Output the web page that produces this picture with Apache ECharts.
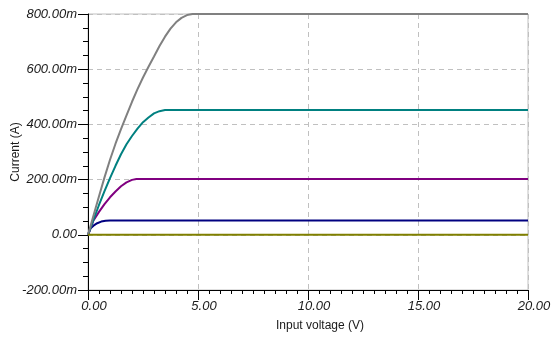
<!DOCTYPE html>
<html>
<head>
<meta charset="utf-8">
<script src="https://cdn.jsdelivr.net/npm/echarts@6/dist/echarts.min.js"></script>
<style>
  html, body { margin: 0; padding: 0; background: #fff; }
  #chart { width: 554px; height: 341px; }
</style>
</head>
<body>
<div id="chart"></div>
<script>
// Drain current (A) versus input voltage (V) for five drive levels
const voltGray   = [0, 0.25, 0.5, 0.75, 1.0, 1.25, 1.5, 1.75, 2.0, 2.25, 2.5, 2.75, 3.0, 3.25, 3.5, 3.75, 4.0, 4.25, 4.5, 4.75, 20];
const curGray    = [0, 0.070, 0.140, 0.208, 0.272, 0.330, 0.383, 0.433, 0.482, 0.528, 0.570, 0.609, 0.646, 0.684, 0.718, 0.747, 0.770, 0.786, 0.796, 0.800, 0.800];

const voltTeal   = [0, 0.25, 0.5, 0.75, 1.0, 1.25, 1.5, 1.75, 2.0, 2.25, 2.5, 2.75, 3.0, 3.25, 3.5, 20];
const curTeal    = [0, 0.055, 0.108, 0.158, 0.205, 0.250, 0.292, 0.328, 0.358, 0.385, 0.408, 0.425, 0.440, 0.448, 0.452, 0.452];

const voltPurple = [0, 0.25, 0.5, 0.75, 1.0, 1.25, 1.5, 1.75, 2.0, 2.2, 20];
const curPurple  = [0, 0.052, 0.083, 0.111, 0.136, 0.157, 0.176, 0.190, 0.199, 0.202, 0.202];

const voltNavy   = [0, 0.12, 0.25, 0.42, 0.6, 0.8, 1.0, 20];
const curNavy    = [0, 0.024, 0.033, 0.042, 0.048, 0.051, 0.052, 0.052];

const voltOlive  = [0, 20];
const curOlive   = [0, 0];

const seriesColors = ['#000080', '#808000', '#800080', '#008080', '#808080'];

function pairs(xs, ys) {
  return xs.map((x, i) => [x, ys[i]]);
}

function lineSeries(xs, ys, color) {
  return {
    type: 'line',
    data: pairs(xs, ys),
    showSymbol: false,
    smooth: false,
    clip: false,
    lineStyle: { color: color, width: 2 },
    itemStyle: { color: color }
  };
}

const tickFont = { fontFamily: 'Liberation Sans', fontSize: 13, fontStyle: 'italic', color: '#1a1a1a' };
const nameFont = { fontFamily: 'Liberation Sans', fontSize: 12, color: '#1a1a1a' };
const gridDash = { color: '#c0c0c0', width: 1, type: [5, 4] };

const chart = echarts.init(document.getElementById('chart'), null, { renderer: 'canvas' });
chart.setOption({
  animation: false,
  backgroundColor: '#ffffff',
  grid: {
    left: 88, right: 26, top: 14, bottom: 51,
    containLabel: false,
    outerBoundsMode: 'none',
    show: true, borderColor: '#c0c0c0', borderWidth: 1, backgroundColor: 'transparent'
  },
  xAxis: {
    type: 'value',
    min: 0, max: 20, interval: 5,
    name: 'Input voltage (V)',
    nameLocation: 'middle',
    nameGap: 30,
    nameMoveOverlap: false,
    nameTextStyle: Object.assign({ padding: [0, 0, 0, 24] }, nameFont),
    axisLine: { show: true, onZero: false, lineStyle: { color: '#000', width: 1 } },
    axisTick: { show: true, length: 10, lineStyle: { color: '#000' } },
    minorTick: { show: true, splitNumber: 10, length: 4, lineStyle: { color: '#000' } },
    axisLabel: Object.assign({
      margin: 10,
      padding: [0, 0, 0, 12],
      formatter: v => v.toFixed(2)
    }, tickFont),
    splitLine: { show: true, lineStyle: gridDash }
  },
  yAxis: {
    type: 'value',
    min: -0.2, max: 0.8, interval: 0.2,
    name: 'Current (A)',
    nameLocation: 'middle',
    nameGap: 66,
    nameMoveOverlap: false,
    nameRotate: 90,
    nameTextStyle: nameFont,
    axisLine: { show: true, onZero: false, lineStyle: { color: '#000', width: 1 } },
    axisTick: { show: true, length: 10, lineStyle: { color: '#000' } },
    minorTick: { show: true, splitNumber: 4, length: 5, lineStyle: { color: '#000' } },
    axisLabel: Object.assign({
      margin: 11,
      formatter: v => {
        const m = Math.round(v * 1000);
        return m === 0 ? '0.00' : m.toFixed(2) + 'm';
      }
    }, tickFont),
    splitLine: { show: true, lineStyle: gridDash }
  },
  series: [
    lineSeries(voltNavy, curNavy, seriesColors[0]),
    lineSeries(voltPurple, curPurple, seriesColors[2]),
    lineSeries(voltTeal, curTeal, seriesColors[3]),
    lineSeries(voltGray, curGray, seriesColors[4]),
    lineSeries(voltOlive, curOlive, seriesColors[1])
  ]
});
</script>
</body>
</html>
